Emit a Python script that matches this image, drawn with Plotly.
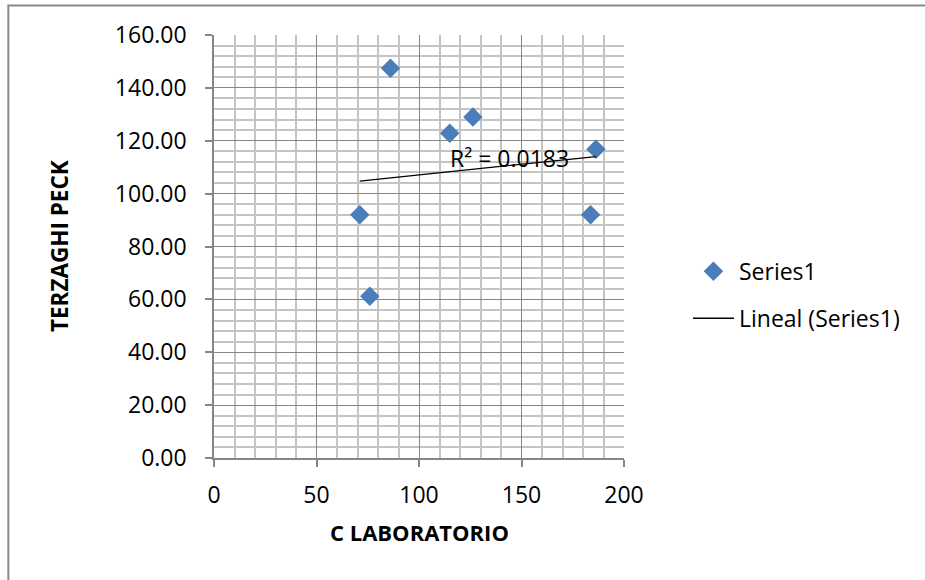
import numpy as np
import plotly.graph_objects as go

# Data
c_laboratorio = [86.1, 115.0, 126.3, 186.3, 71.1, 183.7, 76.0]
terzaghi_peck = [147.4, 122.8, 129.0, 116.8, 92.0, 92.0, 61.2]
series_name = "Series1"
trend_name = "Lineal (Series1)"
x_title = "C LABORATORIO"
y_title = "TERZAGHI PECK"
r2_label = "R² = 0.0183"

# linear trendline computed from the data
slope, intercept = np.polyfit(c_laboratorio, terzaghi_peck, 1)
tx = [min(c_laboratorio), max(c_laboratorio)]
ty = [slope * v + intercept for v in tx]

FONT = "Open Sans"
fig = go.Figure()
fig.add_trace(go.Scatter(
    x=c_laboratorio, y=terzaghi_peck, mode="markers", name=series_name,
    marker=dict(symbol="diamond", size=15, color="#4A7EBB"),
    legendgroup="a",
))
fig.add_trace(go.Scatter(
    x=tx, y=ty, mode="lines", name=trend_name,
    line=dict(color="black", width=1.3),
    legendgroup="b",
))

fig.add_annotation(x=144.3, y=113.4, xref="x", yref="y", text=r2_label,
                   showarrow=False, font=dict(family=FONT, size=23, color="black"))

fig.add_annotation(x=0.5, y=-0.1758, xref="paper", yref="paper", text="<b>" + x_title + "</b>",
                   showarrow=False, font=dict(family=FONT, size=22, color="black"),
                   xanchor="center", yanchor="middle")
fig.add_annotation(x=-0.3766, y=0.5, xref="paper", yref="paper", text="<b>" + y_title + "</b>",
                   showarrow=False, textangle=-90, font=dict(family=FONT, size=22.5, color="black"),
                   xanchor="center", yanchor="middle")

fig.add_shape(type="rect", xref="paper", yref="paper",
              x0=-0.5016, x1=1.76, y0=-0.33, y1=1.0698,
              line=dict(color="#888888", width=2), layer="below")

axis_common = dict(
    showline=True, linecolor="#868686", linewidth=1.5,
    ticks="outside", ticklen=7, tickcolor="#868686", tickwidth=1.5,
    showgrid=True, gridcolor="#868686", gridwidth=1.3,
    zeroline=False, tickfont=dict(family=FONT, size=23, color="black"),
)
fig.update_xaxes(range=[0, 200], dtick=50, tick0=0, ticklabelstandoff=9,
                 minor=dict(dtick=10, showgrid=True, gridcolor="#C4C4C4", gridwidth=1.5, ticks=""),
                 **axis_common)
fig.update_yaxes(range=[0, 160], dtick=20, tick0=0, tickformat=".2f", ticklabelstandoff=14,
                 minor=dict(dtick=4, showgrid=True, gridcolor="#C4C4C4", gridwidth=1.5, ticks=""),
                 **axis_common)

fig.update_layout(
    width=925, height=580,
    margin=dict(l=214, r=301, t=35, b=122, autoexpand=False),
    plot_bgcolor="white", paper_bgcolor="white",
    font=dict(family=FONT, color="black"),
    showlegend=True,
    legend=dict(x=1.156, y=0.492, xanchor="left", yanchor="top", itemwidth=41,
                font=dict(family=FONT, size=23, color="black"),
                tracegroupgap=14, bgcolor="rgba(0,0,0,0)"),
)
fig.write_html("out.html", config={"displayModeBar": False},
               post_script="document.body.style.margin='0';document.body.style.overflow='hidden';")
